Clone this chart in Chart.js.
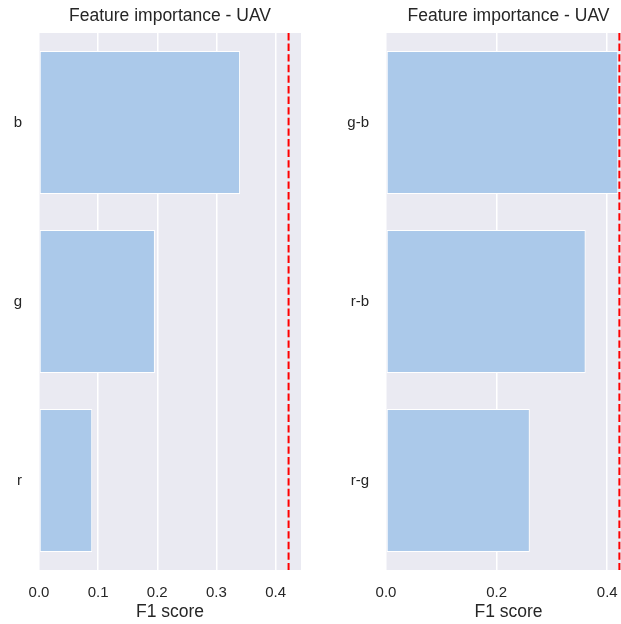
<!DOCTYPE html>
<html>
<head>
<meta charset="utf-8">
<script src="https://cdn.jsdelivr.net/npm/chart.js@4/dist/chart.umd.min.js"></script>
<style>
  html, body { margin: 0; padding: 0; background: #ffffff; width: 621px; height: 624px; overflow: hidden; }
  .box { position: absolute; top: 0; height: 624px; }
</style>
</head>
<body>
<div class="box" id="b1" style="left:0px;width:320px;"><canvas id="c1" width="320" height="624"></canvas></div>
<div class="box" id="b2" style="left:330px;width:310px;"><canvas id="c2" width="310" height="624"></canvas></div>
<script>
// ---- data ----
const chartTitle = 'Feature importance - UAV';
const axisTitle = 'F1 score';
const leftCategories = ['b', 'g', 'r'];
const leftValues = [0.34, 0.196, 0.09];
const rightCategories = ['g-b', 'r-b', 'r-g'];
const rightValues = [0.42, 0.361, 0.26];
const leftTicks = [0.0, 0.1, 0.2, 0.3, 0.4];
const rightTicks = [0.0, 0.2, 0.4];
const thresholdValue = 0.422;
const axisMax = 0.443;

const FONT = "'Liberation Sans', Arial, sans-serif";
const TEXT = '#262626';

const bgPlugin = {
  id: 'plotBg',
  beforeDraw(chart) {
    const {ctx, chartArea: a} = chart;
    ctx.save();
    ctx.fillStyle = '#eaeaf2';
    ctx.fillRect(a.left, a.top, a.right - a.left, a.bottom - a.top);
    ctx.restore();
  }
};

const vlinePlugin = {
  id: 'vline',
  afterDatasetsDraw(chart, args, opts) {
    const {ctx, chartArea: a, scales} = chart;
    const x = scales.x.getPixelForValue(opts.value);
    ctx.save();
    ctx.beginPath();
    ctx.rect(a.left, a.top, a.right - a.left + 2, a.bottom - a.top);
    ctx.clip();
    ctx.strokeStyle = '#ff0000';
    ctx.lineWidth = 2;
    ctx.setLineDash([7.4, 3.2]);
    ctx.beginPath();
    ctx.moveTo(x, a.top);
    ctx.lineTo(x, a.bottom);
    ctx.stroke();
    ctx.restore();
  }
};

function makeChart(id, cats, vals, ticks, yWidth, padRight) {
  return new Chart(document.getElementById(id), {
    type: 'bar',
    data: {
      labels: cats,
      datasets: [{
        data: vals,
        backgroundColor: '#abc9ea',
        borderColor: '#ffffff',
        borderWidth: 1,
        borderSkipped: false,
        categoryPercentage: 1.0,
        barPercentage: 0.8
      }]
    },
    options: {
      indexAxis: 'y',
      responsive: false,
      animation: false,
      devicePixelRatio: 1,
      layout: { padding: { left: 0, right: padRight, top: 0, bottom: 0 } },
      plugins: {
        legend: { display: false },
        tooltip: { enabled: false },
        title: {
          display: true,
          text: chartTitle,
          color: TEXT,
          fullSize: false,
          font: { family: FONT, size: 17.5, weight: 'normal' },
          padding: { top: 6, bottom: 6 }
        },
        vline: { value: thresholdValue }
      },
      scales: {
        x: {
          type: 'linear',
          min: 0,
          max: axisMax,
          afterBuildTicks(scale) { scale.ticks = ticks.map(v => ({ value: v })); },
          afterFit(scale) { scale.height = 54; },
          grid: { color: '#ffffff', lineWidth: 1.5, drawTicks: false },
          border: { display: false },
          ticks: {
            color: TEXT,
            padding: 14,
            font: { family: FONT, size: 15 },
            callback: v => Number(v).toFixed(1)
          },
          title: {
            display: true,
            text: axisTitle,
            color: TEXT,
            font: { family: FONT, size: 17.5 },
            padding: { top: 0, bottom: 1 }
          }
        },
        y: {
          type: 'category',
          afterFit(scale) { scale.width = yWidth; },
          grid: { display: false, drawTicks: false },
          border: { display: false },
          ticks: {
            color: TEXT,
            padding: 17,
            font: { family: FONT, size: 15 }
          }
        }
      }
    },
    plugins: [bgPlugin, vlinePlugin]
  });
}

makeChart('c1', leftCategories, leftValues, leftTicks, 39, 19);
makeChart('c2', rightCategories, rightValues, rightTicks, 56, 9);
</script>
</body>
</html>
